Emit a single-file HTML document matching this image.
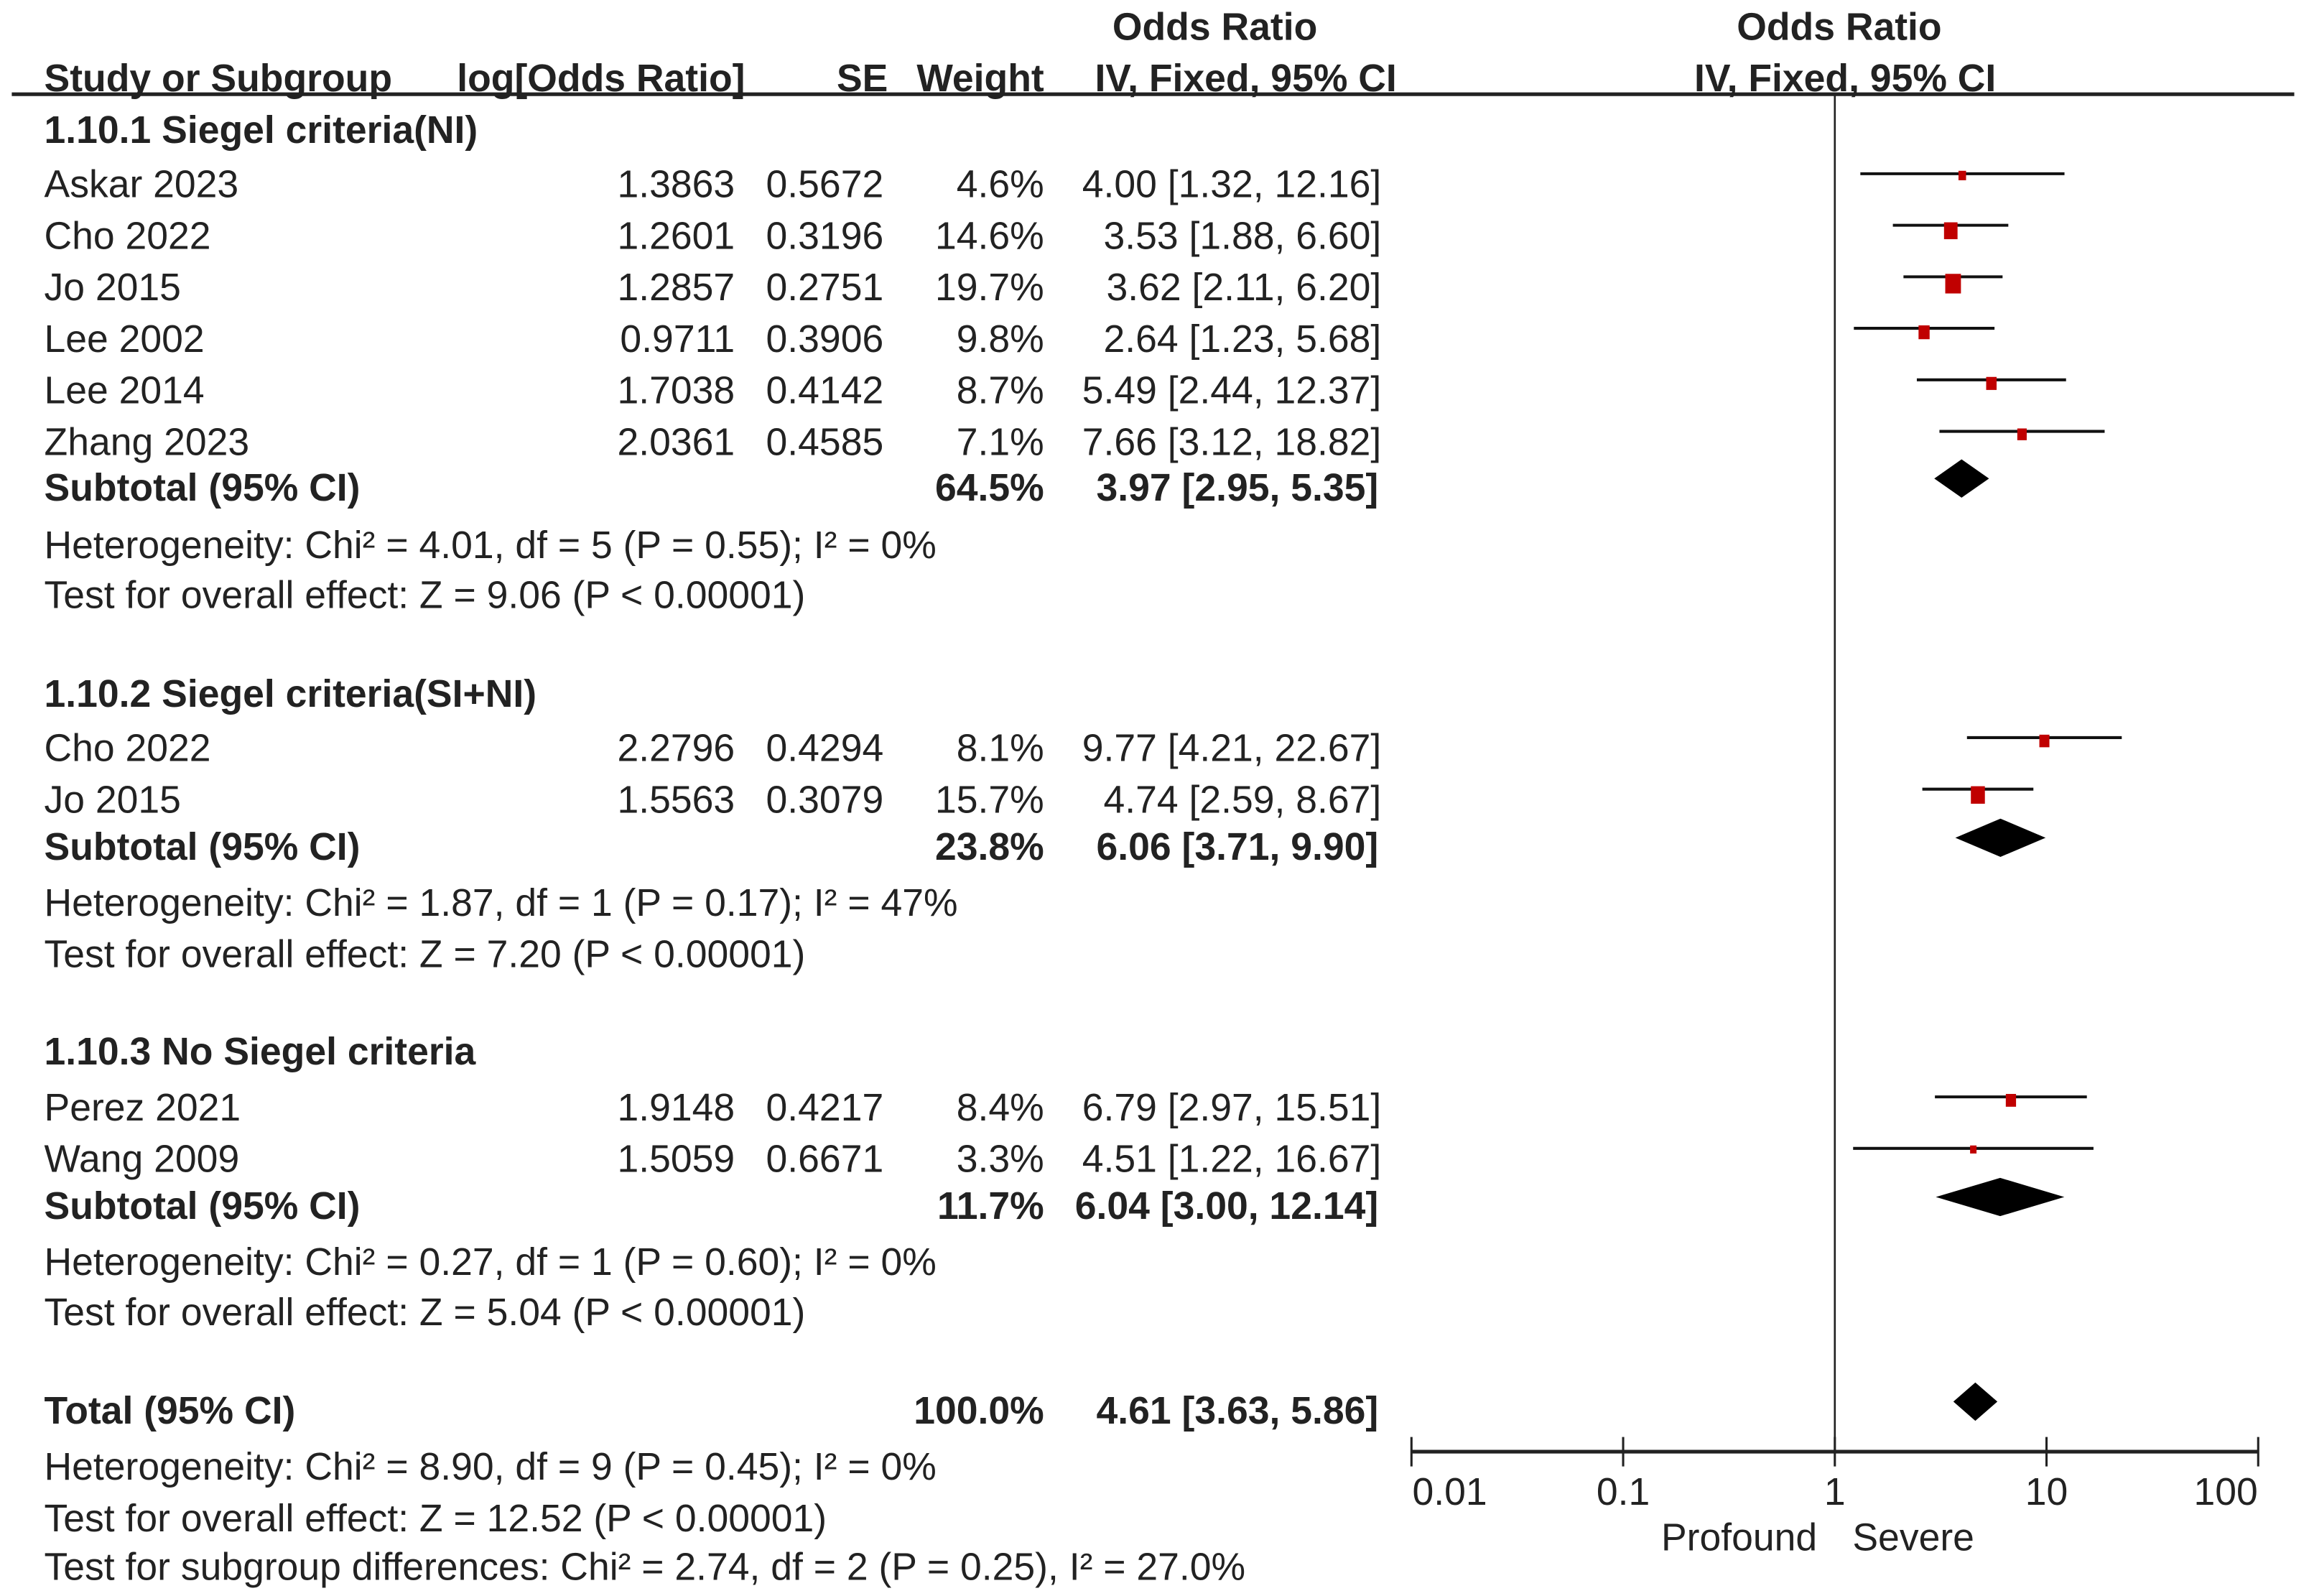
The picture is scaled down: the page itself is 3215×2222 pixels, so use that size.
<!DOCTYPE html>
<html><head><meta charset="utf-8"><style>
html,body{margin:0;padding:0;background:#fff}
svg{display:block}
text{font-family:"Liberation Sans",sans-serif;fill:#222;font-size:26.1px}
.b{font-weight:bold}
</style></head><body>
<svg id="c" width="3215" height="2222" viewBox="0 0 1568 1084" preserveAspectRatio="none" xmlns="http://www.w3.org/2000/svg"></svg>
<script>
const studies=["Askar 2023","Cho 2022","Jo 2015","Lee 2002","Lee 2014","Zhang 2023","Cho 2022","Jo 2015","Perez 2021","Wang 2009"];
const logOR=["1.3863","1.2601","1.2857","0.9711","1.7038","2.0361","2.2796","1.5563","1.9148","1.5059"];
const se=["0.5672","0.3196","0.2751","0.3906","0.4142","0.4585","0.4294","0.3079","0.4217","0.6671"];
const weights=[4.6,14.6,19.7,9.8,8.7,7.1,8.1,15.7,8.4,3.3];
const orVals=[4.00,3.53,3.62,2.64,5.49,7.66,9.77,4.74,6.79,4.51];
const ciLow=[1.32,1.88,2.11,1.23,2.44,3.12,4.21,2.59,2.97,1.22];
const ciHigh=[12.16,6.60,6.20,5.68,12.37,18.82,22.67,8.67,15.51,16.67];
const rowY=[125,160,195,230,265,300,508,543,752,787];
const subOR=[3.97,6.06,6.04,4.61];
const subLow=[2.95,3.71,3.00,3.63];
const subHigh=[5.35,9.90,12.14,5.86];
const subW=["64.5%","23.8%","11.7%","100.0%"];
const subLabel=["Subtotal (95% CI)","Subtotal (95% CI)","Subtotal (95% CI)","Total (95% CI)"];
const subY=[331,575,819,958];
const ticks=[0.01,0.1,1,10,100];
const tickLabels=["0.01","0.1","1","10","100"];
const groupTitles=["1.10.1 Siegel criteria(NI)","1.10.2 Siegel criteria(SI+NI)","1.10.3 No Siegel criteria"];
const groupY=[88,471,714];
const notes=[["Heterogeneity: Chi² = 4.01, df = 5 (P = 0.55); I² = 0%",370],["Test for overall effect: Z = 9.06 (P < 0.00001)",404],
["Heterogeneity: Chi² = 1.87, df = 1 (P = 0.17); I² = 47%",613],["Test for overall effect: Z = 7.20 (P < 0.00001)",648],
["Heterogeneity: Chi² = 0.27, df = 1 (P = 0.60); I² = 0%",857],["Test for overall effect: Z = 5.04 (P < 0.00001)",891],
["Heterogeneity: Chi² = 8.90, df = 9 (P = 0.45); I² = 0%",996],["Test for overall effect: Z = 12.52 (P < 0.00001)",1031],
["Test for subgroup differences: Chi² = 2.74, df = 2 (P = 0.25), I² = 27.0%",1064]];

const svg=document.getElementById('c');
const NS="http://www.w3.org/2000/svg";
const x=v=>1246+143.75*Math.log10(v);
function mk(tag,at,txt){const e=document.createElementNS(NS,tag);for(const k in at)e.setAttribute(k,at[k]);if(txt!==undefined)e.textContent=txt;svg.appendChild(e);return e;}
function T(s,xx,y,anchor,bold,name){const e=mk('text',{x:xx,y:y+9,'text-anchor':anchor||'start',class:bold?'b':''},s);

return e;}

T("Odds Ratio",825,18,'middle',1,'header-odds-ratio');
T("Odds Ratio",1249,18,'middle',1,'header-odds-ratio-plot');
T("Study or Subgroup",30,53,'start',1,'header-study');
T("log[Odds Ratio]",506,53,'end',1,'header-log-or');
T("SE",603,53,'end',1,'header-se');
T("Weight",709,53,'end',1,'header-weight');
T("IV, Fixed, 95% CI",846,53,'middle',1,'header-ci');
T("IV, Fixed, 95% CI",1253,53,'middle',1,'header-ci-plot');
let l=mk('line',{x1:8,x2:1558,y1:64,y2:64,stroke:'#222','stroke-width':2.5});


l=mk('line',{x1:x(1),x2:x(1),y1:64,y2:985,stroke:'#222','stroke-width':1.3});



groupTitles.forEach((g,i)=>T(g,30,groupY[i],'start',1,'subgroup-title'));
notes.forEach(n=>T(n[0],30,n[1],'start',0,'stat-note'));

studies.forEach((s,i)=>{
 const y=rowY[i];
 T(s,30,y,'start',0,'study-name');
 T(logOR[i],499,y,'end',0,'log-or-value');
 T(se[i],600,y,'end',0,'se-value');
 T(weights[i].toFixed(1)+"%",709,y,'end',0,'weight-value');
 T(orVals[i].toFixed(2)+" ["+ciLow[i].toFixed(2)+", "+ciHigh[i].toFixed(2)+"]",938,y,'end',0,'or-ci-value');
 const ly=y-7;
 const ci=mk('line',{x1:x(ciLow[i]),x2:x(ciHigh[i]),y1:ly,y2:ly,stroke:'#111','stroke-width':2});
 
 
 const s2=3.0*Math.sqrt(weights[i]);
 const r=mk('rect',{x:x(orVals[i])-s2*0.4,y:ly-2,width:s2*0.8,height:s2,fill:'#c00000'});
 
 
});

subY.forEach((y,i)=>{
 T(subLabel[i],30,y,'start',1,'subtotal-label');
 T(subW[i],709,y,'end',1,'subtotal-weight');
 T(subOR[i].toFixed(2)+" ["+subLow[i].toFixed(2)+", "+subHigh[i].toFixed(2)+"]",936,y,'end',1,'subtotal-ci');
 const cy=y-6,h=13;
 const d=mk('polygon',{points:`${x(subLow[i])},${cy} ${x(subOR[i])},${cy-h} ${x(subHigh[i])},${cy} ${x(subOR[i])},${cy+h}`,fill:'#000'});
 
 
});

l=mk('line',{x1:x(0.01),x2:x(100),y1:986,y2:986,stroke:'#222','stroke-width':2.5});


ticks.forEach((t,i)=>{
 const tk=mk('line',{x1:x(t),x2:x(t),y1:976,y2:996,stroke:'#222','stroke-width':1.5});
 
 
 T(tickLabels[i],x(t)+(i==0?26:i==4?-22:0),1013,'middle',0,'x-tick-label');
});
T("Profound",1234,1044,'end',0,'favours-left-label');
T("Severe",1258,1044,'start',0,'favours-right-label');
</script>
</body></html>
